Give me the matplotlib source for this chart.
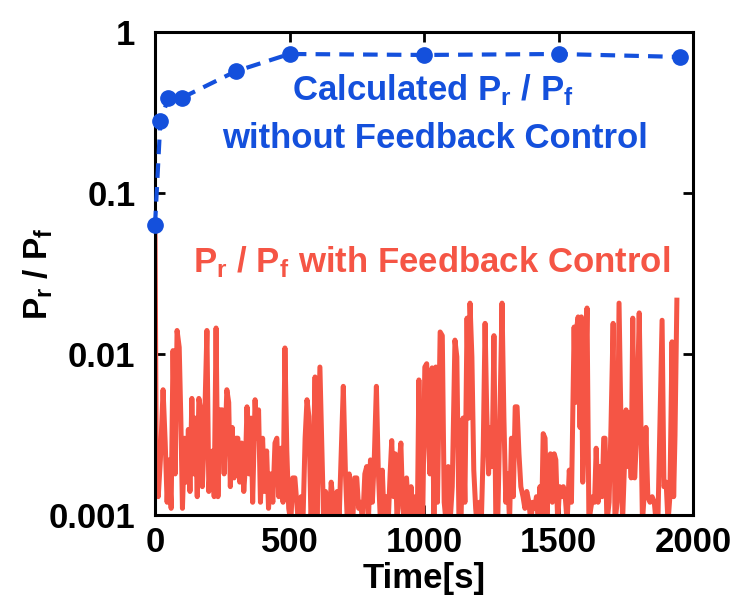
import matplotlib
matplotlib.use("Agg")
import matplotlib.pyplot as plt
from matplotlib.ticker import FixedLocator, FixedFormatter, NullLocator

plt.rcParams['font.family'] = ['Liberation Sans', 'DejaVu Sans']
plt.rcParams['font.weight'] = 'bold'
plt.rcParams['mathtext.default'] = 'regular'

# calculated ratio without feedback control
calc_time = [0, 20, 50, 100, 300, 500, 1000, 1500, 1950]
calc_ratio = [0.063, 0.28, 0.39, 0.39, 0.57, 0.73, 0.72, 0.73, 0.70]

# measured ratio with feedback control
fb_time = [0, 5, 12, 20, 30, 38, 45, 52, 60, 67, 75, 82, 90, 96, 102, 110, 117, 124, 130, 137,
           144, 150, 157, 163, 170, 176, 183, 193, 200, 207, 214, 220, 227, 234, 242, 250, 257,
           267, 274, 280, 287, 294, 301, 308, 315, 322, 330, 336, 342, 350, 357, 363, 372, 378,
           385, 392, 400, 407, 415, 422, 430, 438, 446, 453, 460, 468, 476, 483, 490, 497, 505,
           512, 520, 527, 535, 543, 550, 558, 565, 572, 580, 588, 595, 602, 613, 620, 627, 634,
           641, 648, 655, 662, 670, 677, 685, 692, 700, 708, 715, 722, 728, 735, 742, 750, 757,
           764, 772, 780, 787, 794, 801, 808, 815, 823, 830, 838, 845, 852, 860, 867, 874, 880,
           887, 893, 900, 907, 914, 921, 928, 935, 945, 952, 960, 968, 975, 981, 988, 995, 1003,
           1010, 1016, 1022, 1030, 1037, 1044, 1050, 1060, 1068, 1075, 1082, 1090, 1097, 1105,
           1115, 1122, 1130, 1137, 1145, 1152, 1160, 1166, 1171, 1178, 1185, 1192, 1199, 1206,
           1213, 1220, 1227, 1233, 1240, 1247, 1253, 1260, 1267, 1274, 1282, 1290, 1297, 1304,
           1311, 1318, 1325, 1332, 1339, 1346, 1353, 1360, 1368, 1375, 1382, 1390, 1397, 1404,
           1411, 1418, 1425, 1431, 1437, 1443, 1450, 1457, 1463, 1470, 1477, 1484, 1490, 1497,
           1504, 1511, 1518, 1525, 1532, 1540, 1548, 1558, 1563, 1568, 1573, 1580, 1585, 1590,
           1598, 1606, 1613, 1620, 1627, 1634, 1640, 1647, 1655, 1662, 1668, 1673, 1680, 1688,
           1695, 1703, 1710, 1718, 1725, 1732, 1738, 1745, 1751, 1757, 1762, 1770, 1776, 1783,
           1790, 1800, 1806, 1812, 1818, 1825, 1832, 1840, 1848, 1856, 1863, 1870, 1878, 1885,
           1892, 1900, 1907, 1914, 1922, 1928, 1933, 1940]
fb_ratio = [0.063, 0.0016, 0.0013, 0.0022, 0.0060, 0.0028, 0.0012, 0.0022, 0.0011, 0.0105,
            0.0018, 0.0140, 0.0110, 0.0040, 0.0011, 0.0030, 0.0016, 0.0034, 0.0014, 0.0053,
            0.0018, 0.0040, 0.0013, 0.0053, 0.0045, 0.0015, 0.0030, 0.0140, 0.0014, 0.0022,
            0.0025, 0.0013, 0.0145, 0.0013, 0.0045, 0.0045, 0.0018, 0.0060, 0.0050, 0.0015,
            0.0035, 0.0017, 0.0030, 0.0030, 0.0016, 0.0028, 0.0014, 0.0020, 0.0047, 0.0018,
            0.0040, 0.0012, 0.0052, 0.0030, 0.0045, 0.0012, 0.0030, 0.0014, 0.0025, 0.0011,
            0.0018, 0.0012, 0.0028, 0.0030, 0.0013, 0.0026, 0.0012, 0.0109, 0.0025, 0.0011,
            0.0009, 0.0017, 0.0017, 0.0012, 0.0008, 0.0013, 0.0009, 0.0030, 0.0052, 0.0041,
            0.0009, 0.0020, 0.0072, 0.0009, 0.0083, 0.0028, 0.0009, 0.0014, 0.0012, 0.0009,
            0.0016, 0.0012, 0.0009, 0.0014, 0.0010, 0.0024, 0.0063, 0.0018, 0.0009, 0.0018,
            0.0012, 0.0009, 0.0017, 0.0017, 0.0011, 0.0012, 0.0009, 0.0018, 0.0020, 0.0010,
            0.0022, 0.0012, 0.0022, 0.0063, 0.0019, 0.0009, 0.0019, 0.0009, 0.0013, 0.0009,
            0.0018, 0.0029, 0.0013, 0.0024, 0.0009, 0.0020, 0.0028, 0.0011, 0.0009, 0.0017,
            0.0009, 0.0015, 0.0009, 0.0013, 0.0009, 0.0069, 0.0011, 0.0009, 0.0083, 0.0087,
            0.0030, 0.0018, 0.0082, 0.0009, 0.0083, 0.0012, 0.0137, 0.0130, 0.0012, 0.0009,
            0.0020, 0.0009, 0.0015, 0.0122, 0.0096, 0.0009, 0.0008, 0.0040, 0.0012, 0.0167,
            0.0040, 0.0207, 0.0096, 0.0019, 0.0011, 0.0008, 0.0012, 0.0009, 0.0025, 0.0155,
            0.0045, 0.0018, 0.0035, 0.0020, 0.0130, 0.0009, 0.0009, 0.0040, 0.0207, 0.0040,
            0.0012, 0.0018, 0.0009, 0.0030, 0.0013, 0.0047, 0.0047, 0.0024, 0.0015, 0.0013,
            0.0011, 0.0014, 0.0012, 0.0009, 0.0012, 0.0011, 0.0013, 0.0009, 0.0015, 0.0009,
            0.0032, 0.0030, 0.0009, 0.0019, 0.0024, 0.0012, 0.0024, 0.0022, 0.0009, 0.0015,
            0.0013, 0.0015, 0.0013, 0.0009, 0.0019, 0.0012, 0.0147, 0.0050, 0.0147, 0.0170,
            0.0035, 0.0170, 0.0016, 0.0040, 0.0193, 0.0009, 0.0011, 0.0013, 0.0012, 0.0026,
            0.0012, 0.0020, 0.0013, 0.0030, 0.0030, 0.0009, 0.0012, 0.0035, 0.0155, 0.0009,
            0.0012, 0.0207, 0.0040, 0.0009, 0.0020, 0.0045, 0.0020, 0.0043, 0.0017, 0.0167,
            0.0017, 0.0030, 0.0180, 0.0040, 0.0009, 0.0013, 0.0035, 0.0013, 0.0012, 0.0013,
            0.0012, 0.0009, 0.0010, 0.0043, 0.0162, 0.0015, 0.0016, 0.0009, 0.0013, 0.0119,
            0.0013, 0.0031, 0.0216]

y_ticks = [0.001, 0.01, 0.1, 1]
y_labels = ['0.001', '0.01', '0.1', '1']
x_ticks = [0, 500, 1000, 1500, 2000]

blue = '#1450DC'
red = '#F55545'

fig = plt.figure(figsize=(7.36, 5.99), dpi=100)
ax = fig.add_axes([0.2106, 0.1402, 0.731, 0.8064])

ax.plot(fb_time, fb_ratio, color=red, linewidth=3.6, zorder=2)
ax.plot(calc_time, calc_ratio, color=blue, linewidth=3, linestyle=(0, (3.5, 2.2)),
        marker='o', markersize=11, zorder=3, clip_on=False)

ax.set_yscale('log')
ax.set_xlim(0, 2000)
ax.set_ylim(0.001, 1)
ax.yaxis.set_major_locator(FixedLocator(y_ticks))
ax.yaxis.set_major_formatter(FixedFormatter(y_labels))
ax.yaxis.set_minor_locator(NullLocator())
ax.set_xticks(x_ticks)

for s in ax.spines.values():
    s.set_linewidth(2.2)
ax.tick_params(direction='in', length=7, width=2, top=True, right=True, labelsize=25)
ax.tick_params(axis='y', pad=14)
ax.tick_params(axis='x', pad=8)

ax.set_xlabel('Time[s]', fontsize=25, fontweight='bold')
ax.xaxis.set_label_coords(0.5, -0.097)
ax.set_ylabel('P$_{r}$ / P$_{f}$', fontsize=24, fontweight='bold')
ax.yaxis.set_label_coords(-0.185, 0.5)

ax.text(0.517, 0.88, 'Calculated P$_{r}$ / P$_{f}$', transform=ax.transAxes,
        color=blue, fontsize=25, fontweight='bold', ha='center', va='center')
ax.text(0.52, 0.78, 'without Feedback Control', transform=ax.transAxes,
        color=blue, fontsize=25, fontweight='bold', ha='center', va='center')
ax.text(0.515, 0.524, 'P$_{r}$ / P$_{f}$ with Feedback Control', transform=ax.transAxes,
        color=red, fontsize=25, fontweight='bold', ha='center', va='center')

fig.savefig('out.png', dpi=100)
